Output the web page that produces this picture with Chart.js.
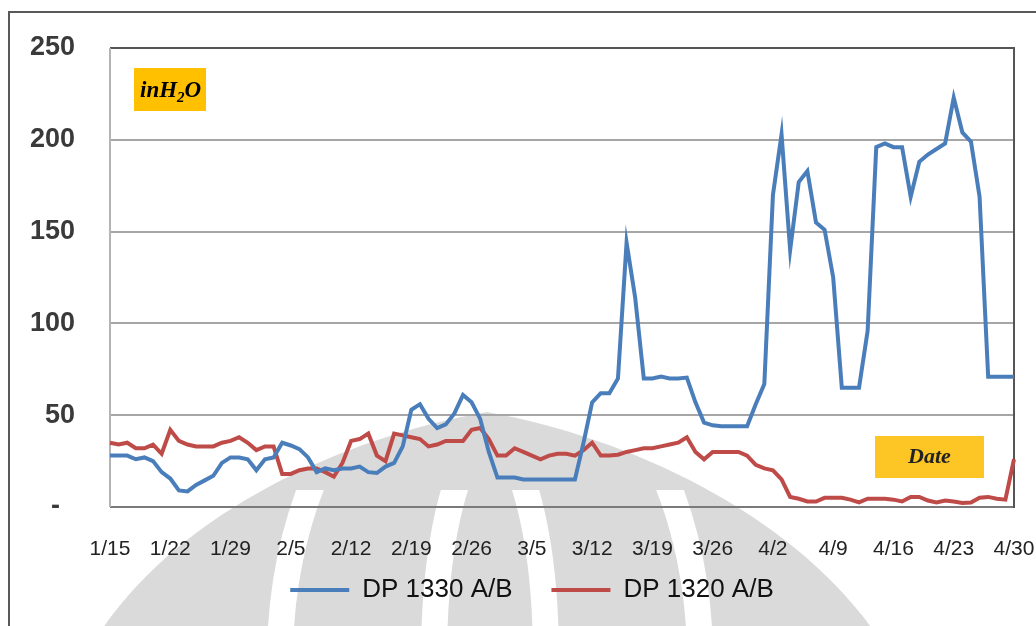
<!DOCTYPE html>
<html>
<head>
<meta charset="utf-8">
<title>DP 1330 A/B - DP 1320 A/B</title>
<script src="https://cdn.jsdelivr.net/npm/chart.js@4.4.1/dist/chart.umd.min.js"></script>
<style>
  html, body { margin: 0; padding: 0; background: #fff; }
  canvas { display: block; }
</style>
</head>
<body>
<canvas id="chart" width="1036" height="626"></canvas>
<script>
// one reading per day, 1/15 .. 4/30
const days = [];
for (let i = 0; i < 106; i++) {
  const d = new Date(2011, 0, 15 + i);
  days.push((d.getMonth() + 1) + '/' + d.getDate());
}

const tickLabels = ['1/15', '1/22', '1/29', '2/5', '2/12', '2/19', '2/26', '3/5',
  '3/12', '3/19', '3/26', '4/2', '4/9', '4/16', '4/23', '4/30'];
const yTicks = [0, 50, 100, 150, 200, 250];

// inH2O
const dp1330 = [
  28, 28, 28, 26, 27, 25, 19, 15.5, 9, 8.5,
  12, 14.5, 17, 24, 27, 27, 26, 20, 26, 27,
  35, 33.5, 31.5, 27, 19, 21, 20, 21, 21, 22,
  19, 18.5, 22, 24, 33, 53, 56, 48, 43, 45,
  51, 61, 57, 48, 30, 16, 16, 16, 15, 15,
  15, 15, 15, 15, 15, 35, 57, 62, 62, 70,
  144, 114, 70, 70, 71, 70, 70, 70.5, 57, 46,
  44.5, 44, 44, 44, 44, 56, 67, 170, 203, 140,
  177, 183, 155, 151, 125, 65, 65, 65, 96, 196,
  198, 196, 196, 169, 188, 192, 195, 198, 223, 204,
  199, 169, 71, 71, 71, 71
];
const dp1320 = [
  35, 34, 35, 32, 32, 34, 29, 42, 36, 34,
  33, 33, 33, 35, 36, 38, 35, 31, 33, 33,
  18, 18, 20, 21, 21, 19, 16.5, 24, 36, 37,
  40, 28, 25, 40, 39, 38, 37, 33, 34, 36,
  36, 36, 42, 43, 37, 28, 28, 32, 30, 28,
  26, 28, 29, 29, 28, 31, 35, 28, 28, 28.5,
  30, 31, 32, 32, 33, 34, 35, 38, 30, 26,
  30, 30, 30, 30, 28, 23, 21, 20, 15, 5.5,
  4.5, 3, 3, 5, 5, 5, 4, 2.5, 4.5, 4.5,
  4.5, 4, 3, 5.5, 5.5, 3.5, 2.5, 3.5, 3, 2.2,
  2.5, 5, 5.5, 4.5, 4, 26
];

const sans = 'Liberation Sans, Arial, sans-serif';
const serif = '"Liberation Serif", "Times New Roman", serif';

// seal in the background, outer frame, plot frame and the two tags
const decor = {
  id: 'decor',
  beforeDraw(chart) {
    const ctx = chart.ctx;
    ctx.save();
    ctx.beginPath();
    ctx.moveTo(95, 640);
    ctx.bezierCurveTo(170, 520, 330, 440, 487, 412);
    ctx.bezierCurveTo(640, 440, 800, 520, 880, 640);
    ctx.closePath();
    ctx.fillStyle = '#dadada';
    ctx.fill();
    ctx.clip();
    ctx.beginPath();
    ctx.rect(0, 490, 1036, 200);
    ctx.clip();
    ctx.strokeStyle = '#fff';
    ctx.lineWidth = 26;
    ctx.beginPath();
    ctx.ellipse(490, 660, 210, 330, 0, 0, Math.PI * 2);
    ctx.stroke();
    ctx.beginPath();
    ctx.ellipse(490, 660, 56, 220, 0, 0, Math.PI * 2);
    ctx.stroke();
    ctx.restore();

    ctx.save();
    ctx.strokeStyle = '#595959';
    ctx.lineWidth = 2;
    ctx.strokeRect(9, 12, 1200, 800);
    ctx.restore();
  },
  beforeDatasetsDraw(chart) {
    const ctx = chart.ctx;
    const a = chart.chartArea;
    ctx.save();
    ctx.lineWidth = 2;
    ctx.strokeStyle = '#b4b4b4';
    ctx.beginPath();
    ctx.moveTo(a.left, a.top);
    ctx.lineTo(a.left, a.bottom);
    ctx.stroke();
    ctx.strokeStyle = '#555';
    ctx.beginPath();
    ctx.moveTo(a.right, a.top - 1);
    ctx.lineTo(a.right, a.bottom + 1);
    ctx.stroke();
    ctx.restore();
  },
  afterDatasetsDraw(chart) {
    const ctx = chart.ctx;
    const a = chart.chartArea;
    ctx.save();
    // unit tag
    ctx.fillStyle = '#ffc000';
    ctx.fillRect(a.left + 24, a.top + 20, 72, 43);
    ctx.fillStyle = '#000';
    ctx.textBaseline = 'alphabetic';
    ctx.textAlign = 'left';
    let x = a.left + 30;
    const y = a.top + 49;
    ctx.font = 'italic bold 23px ' + serif;
    ctx.fillText('inH', x, y);
    x += ctx.measureText('inH').width;
    ctx.font = 'italic bold 15px ' + serif;
    ctx.fillText('2', x, y + 5);
    x += ctx.measureText('2').width;
    ctx.font = 'italic bold 23px ' + serif;
    ctx.fillText('O', x, y);

    // axis tag
    ctx.fillStyle = '#fec624';
    ctx.fillRect(a.left + 765, a.top + 388, 109, 42);
    ctx.fillStyle = '#222';
    ctx.textAlign = 'center';
    ctx.font = 'italic bold 22px ' + serif;
    ctx.fillText('Date', a.left + 765 + 54.5, a.top + 415);
    ctx.restore();
  }
};

new Chart(document.getElementById('chart'), {
  type: 'line',
  data: {
    labels: days,
    datasets: [
      {
        label: 'DP 1330 A/B',
        data: dp1330,
        borderColor: '#4a7ebb',
        backgroundColor: '#4a7ebb',
        borderWidth: 4,
        pointRadius: 0,
        tension: 0
      },
      {
        label: 'DP 1320 A/B',
        data: dp1320,
        borderColor: '#be4b48',
        backgroundColor: '#be4b48',
        borderWidth: 4,
        pointRadius: 0,
        tension: 0
      }
    ]
  },
  options: {
    responsive: false,
    animation: false,
    devicePixelRatio: 1,
    layout: { padding: { left: 28, right: 0, top: 48, bottom: 13 } },
    plugins: {
      legend: {
        position: 'bottom',
        labels: {
          usePointStyle: true,
          pointStyle: 'line',
          pointStyleWidth: 59,
          padding: 10,
          color: '#111',
          font: { family: sans, size: 26 },
          generateLabels(chart) {
            const items = Chart.defaults.plugins.legend.labels.generateLabels(chart);
            // wider gap after the first entry
            items[0].text += '    ';
            return items;
          }
        }
      },
      tooltip: { enabled: false }
    },
    scales: {
      x: {
        grid: { display: false, drawTicks: true, tickLength: 30 },
        border: { display: false },
        ticks: {
          autoSkip: false,
          maxRotation: 0,
          padding: 0,
          color: '#222',
          font: { family: sans, size: 21 },
          callback(v, i) {
            const l = days[i];
            return tickLabels.includes(l) ? l : '';
          }
        },
        afterFit(s) { s.height = 60; }
      },
      y: {
        min: 0,
        max: 250,
        afterBuildTicks(s) { s.ticks = yTicks.map(v => ({ value: v })); },
        grid: {
          drawTicks: true,
          tickLength: 35,
          tickColor: 'rgba(0,0,0,0)',
          lineWidth: 2,
          color(c) {
            if (c.tick.value === 0) return '#7a7a7a';
            if (c.tick.value === 250) return '#555';
            return '#a6a6a6';
          }
        },
        border: { display: false },
        ticks: {
          padding: 0,
          color: '#3a3a3a',
          font: { family: sans, size: 27, weight: 'bold' },
          callback: v => (v === 0 ? '-  ' : String(v))
        },
        afterFit(s) { s.width = 82; }
      },
      // empty strip on the right so the plot ends short of the edge
      edge: {
        type: 'linear',
        position: 'right',
        grid: { display: false, drawTicks: false },
        border: { display: false },
        ticks: { display: false },
        afterFit(s) { s.width = 22; }
      }
    }
  },
  plugins: [decor]
});
</script>
</body>
</html>
